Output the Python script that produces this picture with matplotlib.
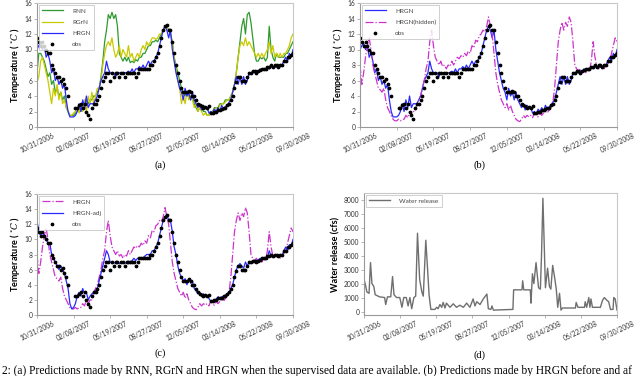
import numpy as np
import pandas as pd
import matplotlib
matplotlib.use("Agg")
import matplotlib.pyplot as plt
import matplotlib.dates as mdates

# ---------------- data ----------------
start_date = "2006-10-31"
end_date = "2008-09-30"
sample_step = "5D"
tick_dates = ["2006-10-31", "2007-02-08", "2007-05-19", "2007-08-27",
              "2007-12-05", "2008-03-14", "2008-06-22", "2008-09-30"]

obs = [11.5, 11, 10.5, 11, 10.5, 10, 9.5, 9.5, 8, 7.5, 7, 6.5, 6.5, 6, 6.2, 5.5, 5, 4,
       np.nan, np.nan, np.nan, 2.5, 2.5, 2.8, 3, 2.5, 3, 2, 1.5, 1, 2.5, 3, 3, 3.5, 4, 5,
       6, 6.5, 7, 7, 6, 7, 6.5, 7, 7, 6.5, 7, 7, 6.5, 7, 7, 7, 7, 7, 6.5, 7, 7.5, 7.5,
       7.5, 7.5, 7.5, 7.5, 8, 8, 8.5, 9, 9.5, 10.5, 11.5, 12.5, 13, 13.2, 12.5, 12.5, 11,
       9.5, 8, 7, 6, 5, 4.5, 4.5, 4.5, 4.7, 4.5, 4, 4, 3.5, 3, 2.8, 2.7, 2.5, 2.6, 2.5,
       2.7, 1.8, 1.8, 2, 2, 2.2, 2.2, 2.3, 2.5, 2.5, 2.8, 3, 3.5, 4, 5, 5.8, 6.5, 6.5, 6,
       6, 6, 6.5, 7, 7, 7.2, 7.2, 7, 7.2, 7.3, 7.5, 7.5, 7.5, 7.8, 7.8, 8, 7.8, 8, 8, 7.8,
       8, 8, 8.5, 8.5, 9, 9, 9.3, 9.5]

hrgn = [10, 10.5, 10.8, 10, 10.5, 9, 9.5, 8.5, 7, 7.5, 6, 6.5, 5.5, 6, 5, 5.5, 3.5, 2,
        1.3, 1.3, 1.3, 1.5, 2, 3, 2, 3.5, 2.5, 4, 2.5, 3, 3, 3, 3.5, 4, 5, 6, 6.5, 7, 8.5,
        7.5, 7, 6.8, 7, 6.5, 7, 7, 6.8, 7, 7, 7, 7.2, 7, 7.5, 7, 7.5, 7.5, 7.8, 7.5, 8,
        7.5, 8, 8.5, 8, 8.5, 8.5, 9, 9.5, 10.5, 11.5, 12.5, 13, 12.5, 11.5, 12.5, 10, 8.5,
        7, 6, 5, 4.5, 3.5, 5, 4, 4.5, 3.5, 4.5, 3.5, 3, 2.5, 3, 2.2, 2.8, 2.5, 2.5, 1.8, 2,
        1.7, 2.3, 2, 2.5, 2, 2.8, 2.3, 2.6, 2.8, 3.2, 3.5, 4.5, 5.5, 6.5, 5.5, 6.5, 5.5,
        6.5, 5.5, 6, 7, 6.8, 7.2, 7, 7.3, 7, 7.5, 7.3, 7.5, 7.3, 7.7, 7.5, 7.8, 7.6, 7.8,
        7.7, 7.8, 8, 8, 8.5, 9, 8.5, 9.5, 9, 10]

rnn = [7, 9.5, 9.5, 9, 8.5, 7.5, 6.5, 7, 5.5, 6, 4.5, 5, 4, 4.5, 3.5, 4, 2.5, 2, 1.5,
       1.5, 1.5, 1.8, 2, 2.5, 2, 3, 2.5, 3.5, 3, 3.5, 3.5, 4, 4, 4.5, 5, 6.5, 8.5, 11,
       12.5, 14.5, 14, 14.8, 14, 14.5, 13, 9.5, 9, 8.5, 9, 8.5, 9, 8.3, 8.5, 8.3, 8.7, 8.5,
       9, 9, 9.5, 9.5, 10, 10.5, 10.5, 11, 11, 11.2, 11, 11.5, 12, 12.5, 13, 13, 12.5, 12,
       11, 9, 8, 7, 6, 5, 4.5, 4, 4.5, 4, 3.5, 4, 3, 2.5, 2, 2.5, 2.5, 2, 2, 1.5, 1.5, 2,
       2, 2.5, 2.5, 2.5, 3, 3, 3, 3.5, 3.5, 3.5, 4, 4.5, 5.5, 7, 9, 11, 13, 14, 12, 14.5,
       14.8, 13.5, 11.5, 9.5, 8.5, 8.5, 9, 8.8, 9, 8.5, 9, 13, 10, 9, 8.5, 9.5, 9, 9, 9, 9,
       9.5, 9.5, 10, 10.5, 11]

rgrn = [5.8, 6.5, 8.5, 9, 8, 7, 6, 4.5, 3, 5, 4, 5.5, 3.5, 4.5, 3, 3.5, 2.5, 2, 1.5,
        1.5, 1.8, 2, 2.5, 1.8, 3, 2, 3.5, 2, 4, 3, 4.5, 3, 4, 5, 5, 6, 8, 9.5, 10.5, 11,
        10.5, 11.5, 10, 9, 9.5, 10.5, 9, 10, 9.5, 9, 10.5, 9, 9.5, 8.5, 9, 9.5, 9, 10,
        10.5, 10, 11, 10.5, 11, 11.5, 11.5, 11.3, 11.5, 12, 12, 12.5, 13, 12.8, 12.5, 12,
        11, 9, 7.5, 6, 5, 3, 4, 3, 4.5, 3.5, 4, 3.5, 2.5, 3, 2, 2.5, 2, 1.5, 1.8, 1.5, 1.5,
        1.8, 2, 2.2, 2.5, 2.2, 2.8, 3, 3, 3.2, 3.5, 3.5, 4, 4.5, 5.5, 7, 9, 10.5, 11, 10.5,
        11.5, 10.5, 11, 10.5, 10, 9.5, 9, 9.5, 9, 9.5, 9, 9.5, 10, 11, 9.5, 10.5, 9, 9.5,
        9, 9.5, 9, 9.5, 9.5, 10, 10.5, 11.5, 12]

hrgn_hidden = [8, 5.5, 7, 9, 10.5, 11.5, 10, 8, 7, 6, 5, 4.8, 4.5, 5, 3.5, 2.5, 2, 1.5,
               1, 0.8, 0.8, 1, 0.8, 1, 1, 1.5, 1.2, 2, 1.5, 2, 2, 3, 3.5, 4, 5, 6, 7.5,
               8.5, 11, 12.5, 10.5, 9, 8.5, 8, 8.5, 7.8, 8, 7.5, 8, 7.8, 8.5, 8, 8.5, 9,
               8.8, 9.2, 9, 9.5, 9.2, 9.8, 9.5, 10.5, 10.2, 11.2, 11, 11.8, 12, 12.5,
               12.3, 13, 14.2, 13, 12, 9.5, 7, 5.5, 4.5, 3.5, 3, 2.5, 3, 2.2, 2.8, 2, 1.5,
               1, 0.8, 0.7, 1, 1.5, 1.2, 1.5, 1.3, 1.5, 1.2, 1.8, 1.5, 1.3, 1.8, 1.5, 1.8,
               2, 1.8, 2.2, 2.5, 3, 5, 8, 11, 12.5, 13.5, 12.5, 13.5, 13, 14.2, 13.5, 11,
               8, 7.5, 7.2, 7.5, 7, 7.3, 7, 7.5, 7.2, 8.5, 11, 9, 7.8, 7.5, 8, 7.8, 7.5, 8,
               8.2, 8.5, 9.5, 10.5, 11.5, 11]

hrgn_adj = [12.5, 11, 10.5, 11, 10.5, 10, 9.5, 9.5, 8, 7.5, 7, 6.5, 6, 6.5, 6, 5.5, 4.5,
            3.5, 1.5, 0.8, 1, 1.5, 2.5, 3, 2.5, 3.5, 2.8, 3, 2, 2.5, 2.8, 3, 3.2, 3.5, 4.5,
            5.5, 6.5, 7.5, 8.5, 8, 7, 6.8, 7, 6.8, 7, 6.8, 7, 7, 6.8, 7, 7, 7, 7.2, 7.5,
            7.2, 7.5, 7.5, 7.5, 7.5, 7.8, 8, 8, 8, 8.5, 8.5, 9, 9.5, 10.5, 11.5, 12.5, 13,
            13.3, 12.5, 12.5, 11, 9, 8, 6.5, 5.5, 5, 4.5, 4.8, 4, 4.8, 4.2, 4.5, 3.5, 3.2,
            2.8, 3, 2.6, 2.8, 2.5, 2.6, 2.2, 1.8, 1.8, 2, 2.1, 2.4, 2.2, 2.4, 2.5, 2.6, 2.8,
            3, 3.5, 4, 5, 6, 6.5, 6.8, 6.5, 6.2, 7, 6.5, 7, 6.8, 7.2, 7, 7.2, 7.3, 7.5, 7.3,
            7.5, 7.6, 7.6, 8.5, 7.8, 7.6, 8, 7.8, 7.8, 8, 7.8, 8.5, 9, 8.5, 9.3, 9.2, 10]

release_days = [0, 4, 8, 14, 18, 22, 27, 31, 43, 57, 60, 65, 74, 79, 83, 90, 99, 105,
                110, 117, 122, 127, 132, 138, 143, 148, 154, 160, 164, 171, 176, 180,
                185, 196, 201, 205, 210, 215, 219, 224, 228, 238, 247, 256, 265, 275,
                284, 293, 302, 307, 312, 321, 330, 340, 344, 351, 354, 358, 412, 414,
                437, 439, 442, 460, 462, 466, 470, 476, 483, 488, 491, 495, 502, 508,
                513, 517, 522, 527, 532, 536, 541, 545, 549, 585, 587, 592, 610, 612,
                616, 622, 625, 628, 632, 654, 660, 665, 672, 677, 682, 689, 691, 695, 700]
release_cfs = [2300, 1900, 1400, 1300, 3500, 2000, 1800, 1200, 1050, 1000, 500, 1050,
               1050, 2500, 1200, 1000, 1000, 300, 1000, 1000, 400, 1000, 200, 1000, 1100,
               5600, 2300, 1400, 1100, 5100, 3000, 1200, 150, 150, 300, 200, 500, 300,
               650, 250, 600, 300, 550, 300, 450, 300, 600, 300, 900, 400, 700, 500, 900,
               1250, 200, 150, 400, 100, 150, 1550, 1550, 2200, 1550, 1550, 600, 2700,
               2000, 3500, 1700, 1600, 3900, 8100, 1700, 3100, 1800, 1600, 3300, 2500,
               1600, 300, 1300, 100, 250, 250, 650, 300, 300, 700, 300, 1000, 300, 900,
               300, 300, 800, 1000, 800, 700, 150, 150, 1000, 900, 100]

caption = ("2: (a) Predictions made by RNN, RGrN and HRGN when the supervised data are "
           "available. (b) Predictions made by HRGN before and af")

# ---------------- style ----------------
plt.rcParams['font.family'] = ['Lato', 'DejaVu Sans']
plt.rcParams['mathtext.fontset'] = 'dejavuserif'

dates = pd.date_range(start_date, end_date, freq=sample_step)
rel_dates = pd.Timestamp(start_date) + pd.to_timedelta(release_days, unit="D")
ticks = pd.to_datetime(tick_dates)

C_GREEN = "#2e9a2e"
C_YELLOW = "#c9c900"
C_BLUE = "#2a2aff"
C_MAG = "#cc33cc"
C_GRAY = "#6f6f6f"

fig = plt.figure(figsize=(6.4, 3.76), dpi=100)
W, H = 640.0, 376.0


def make_ax(x0, x1, ytop, ybot):
    return fig.add_axes([x0 / W, 1 - ybot / H, (x1 - x0) / W, (ybot - ytop) / H])


def style(ax, ylabel, ylim, yticks):
    ax.set_xlim(pd.Timestamp(start_date), pd.Timestamp(end_date))
    ax.set_xticks(ticks)
    ax.xaxis.set_major_formatter(mdates.DateFormatter("%m/%d/%Y"))
    for lab in ax.get_xticklabels():
        lab.set_rotation(25)
        lab.set_ha("center")
    ax.set_ylim(*ylim)
    ax.set_yticks(yticks)
    ax.tick_params(axis="both", labelsize=4.8, length=2, width=0.5,
                   color="#999999", pad=1.5, labelcolor="#333333")
    for s in ax.spines.values():
        s.set_color("#c8c8c8")
        s.set_linewidth(0.8)
    ax.spines["left"].set_color("#999999")
    ax.spines["bottom"].set_color("#999999")
    ax.set_ylabel(ylabel, fontsize=6.5, fontweight="bold", labelpad=2)


def legend(ax, fs=4.6):
    lg = ax.legend(loc="upper left", fontsize=fs, frameon=True, fancybox=False,
                   borderpad=0.5, handlelength=3.2, labelspacing=0.9,
                   handletextpad=1.5, borderaxespad=0.3, labelcolor="#444444")
    lg.get_frame().set_edgecolor("#bbbbbb")
    lg.get_frame().set_linewidth(0.6)


temp_label = "Temperature ( $^{\\circ}C$ )"
temp_ticks = [0, 2, 4, 6, 8, 10, 12, 14, 16]
MS = 1.7

# (a)
axa = make_ax(37, 293, 3, 127)
axa.plot(dates, rnn, color=C_GREEN, lw=0.9, label="RNN")
axa.plot(dates, rgrn, color=C_YELLOW, lw=0.9, label="RGrN")
axa.plot(dates, hrgn, color=C_BLUE, lw=0.9, label="HRGN")
axa.plot(dates, obs, ls="none", marker="o", ms=MS, color="black", label="obs")
style(axa, temp_label, (0, 16), temp_ticks)
legend(axa)

# (b)
axb = make_ax(360, 617, 3, 127)
axb.plot(dates, hrgn, color=C_BLUE, lw=0.9, label="HRGN")
axb.plot(dates, hrgn_hidden, color=C_MAG, lw=0.9, ls="-.", label="HRGN(hidden)")
axb.plot(dates, obs, ls="none", marker="o", ms=MS, color="black", label="obs")
style(axb, temp_label, (0, 16), temp_ticks)
legend(axb)

# (c)
axc = make_ax(37, 293, 194, 315)
axc.plot(dates, hrgn_hidden, color=C_MAG, lw=0.9, ls="-.", label="HRGN")
axc.plot(dates, hrgn_adj, color=C_BLUE, lw=0.9, label="HRGN-adj")
axc.plot(dates, obs, ls="none", marker="o", ms=MS, color="black", label="obs")
style(axc, temp_label, (0, 16), temp_ticks)
legend(axc)

# (d)
axd = make_ax(364, 617, 193, 315)
axd.plot(rel_dates, release_cfs, color=C_GRAY, lw=1.0, label="Water release")
style(axd, "Water release (cfs)", (-250, 8480), list(range(0, 8001, 1000)))
legend(axd, fs=4.6)

# sub-labels and caption
serif = ["Liberation Serif", "DejaVu Serif"]
for txt, x, y in [("(a)", 160, 165), ("(b)", 479, 165), ("(c)", 160, 353), ("(d)", 479, 355)]:
    fig.text(x / W, 1 - y / H, txt, ha="center", va="center", fontsize=7.5, family=serif)

fig.text(2 / W, 1 - 371 / H, caption, ha="left", va="center", fontsize=8.3, family=serif)

fig.savefig("out.png", dpi=100)
